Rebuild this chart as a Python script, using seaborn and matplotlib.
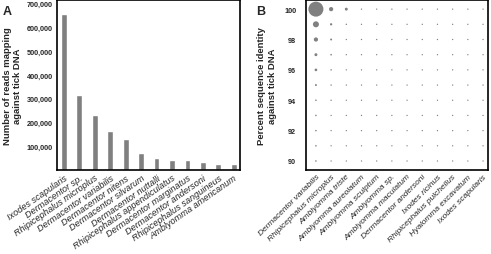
import numpy as np
import pandas as pd
import matplotlib
matplotlib.use("Agg")
import matplotlib.pyplot as plt
import seaborn as sns

# panel A: reads mapping against tick DNA
species_a = ["Ixodes scapularis", "Dermacentor sp.", "Rhipicephalus microplus",
             "Dermacentor variabilis", "Dermacentor nitens", "Dermacentor silvarum",
             "Dermacentor nuttalli", "Rhipicephalus appendiculatus",
             "Dermacentor marginatus", "Dermacentor andersoni",
             "Rhipicephalus sanguineus", "Amblyomma americanum"]
reads_a = [658000, 316000, 230000, 163000, 131000, 74000,
           49000, 41000, 41000, 33000, 25000, 25000]
yticks_a = [100000, 200000, 300000, 400000, 500000, 600000, 700000]

# panel B: percent sequence identity (dot size = share of reads)
species_b = ["Dermacentor variabilis", "Rhipicephalus microplus", "Amblyomma triste",
             "Amblyomma aureolatum", "Amblyomma sculptum", "Amblyomma sp.",
             "Amblyomma maculatum", "Dermacentor andersoni", "Ixodes ricinus",
             "Rhipicephalus pulchellus", "Hyalomma excavatum", "Ixodes scapularis"]
identity_b = [100, 99, 98, 97, 96, 95, 94, 93, 92, 91, 90]
share_d_variabilis = [97, 15, 7, 3, 2.3, 0.9, 0.3, 0.3, 0.3, 0.3, 0.3]
share_r_microplus = [7, 1.5, 0.9, 0.4, 0.2, 0.1, 0.1, 0, 0, 0, 0]
share_a_triste = [3, 0.1, 0, 0, 0, 0, 0, 0, 0, 0, 0]
yticks_b = [90, 92, 94, 96, 98, 100]

sns.set_theme(style="white")
plt.rcParams["font.family"] = ["Liberation Sans", "DejaVu Sans"]

gray = "#808080"

fig = plt.figure(figsize=(4.91, 2.55), dpi=100)
ax1 = fig.add_axes([0.116, 0.329, 0.373, 0.667])
ax2 = fig.add_axes([0.623, 0.329, 0.371, 0.667])

# ---- A ----
df_a = pd.DataFrame({"species": species_a, "reads": reads_a})
sns.barplot(data=df_a, x="species", y="reads", order=species_a, color=gray,
            saturation=1, width=0.38, ax=ax1)
ax1.set_xlim(-0.45, 11.41)
ax1.set_ylim(0, 715000)
ax1.set_yticks(yticks_a)
ax1.set_yticklabels([f"{v:,}" for v in yticks_a], fontsize=5.2, fontweight="bold")
ax1.set_xticks(range(len(species_a)))
ax1.set_xticklabels(species_a, rotation=35, ha="right", va="top",
                    rotation_mode="anchor", fontsize=6.6, style="italic")
ax1.set_xlabel("")
ax1.set_ylabel("Number of reads mapping\nagainst tick DNA", fontsize=6.8,
               fontweight="bold", labelpad=3, linespacing=1.25)
ax1.tick_params(axis="both", length=0, pad=3)
ax1.tick_params(axis="x", pad=2)

# ---- B ----
rows = []
for sp, col in zip(species_b, [share_d_variabilis, share_r_microplus, share_a_triste]):
    for idt, v in zip(identity_b, col):
        rows.append((sp, idt, v))
for sp in species_b[3:]:
    for idt in identity_b:
        rows.append((sp, idt, 0))
df_b = pd.DataFrame(rows, columns=["species", "identity", "share"])
df_b["species"] = pd.Categorical(df_b["species"], categories=species_b, ordered=True)
df_b = df_b.sort_values("species")
df_b["xpos"] = df_b["species"].cat.codes

sns.scatterplot(data=df_b, x="xpos", y="identity", size="share",
                sizes=(0.9, 120), size_norm=(0, 100), color=gray,
                linewidth=0, legend=False, ax=ax2)
ax2.set_xlim(-0.66, 11.33)
ax2.set_ylim(89.4, 100.6)
ax2.set_yticks(yticks_b)
ax2.set_yticklabels([str(v) for v in yticks_b], fontsize=5.2, fontweight="bold")
ax2.set_xticks(range(len(species_b)))
ax2.set_xticklabels(species_b, rotation=45, ha="right", va="top",
                    rotation_mode="anchor", fontsize=6, style="italic")
ax2.set_xlabel("")
ax2.set_ylabel("Percent sequence identity\nagainst tick DNA", fontsize=6.8,
               fontweight="bold", labelpad=5, linespacing=1.25)
ax2.tick_params(axis="both", length=0)
ax2.tick_params(axis="y", pad=7)
ax2.tick_params(axis="x", pad=2)

for ax in (ax1, ax2):
    for s in ax.spines.values():
        s.set_visible(True)
        s.set_color("black")
        s.set_linewidth(1.2)

fig.text(0.006, 0.975, "A", fontsize=9, fontweight="bold", va="top")
fig.text(0.522, 0.975, "B", fontsize=9, fontweight="bold", va="top")

fig.savefig("out.png", dpi=100)
